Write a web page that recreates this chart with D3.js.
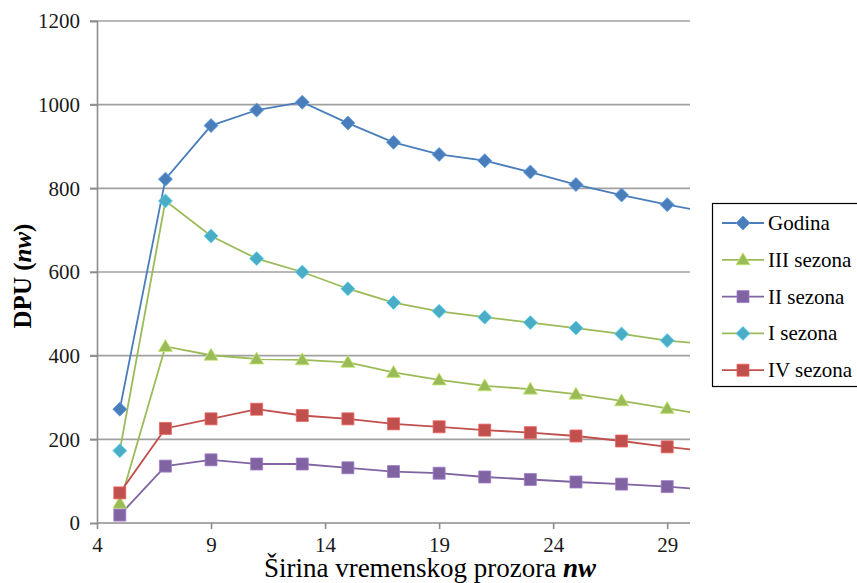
<!DOCTYPE html>
<html><head><meta charset="utf-8">
<script src="https://cdn.jsdelivr.net/npm/d3@7"></script>
<style>body{margin:0;background:#fff;} svg{display:block;} text{font-family:'Liberation Serif','Times New Roman',serif;}</style>
</head><body>
<svg id="c" width="857" height="583"></svg>
<script>
const nwValues = [5, 7, 9, 11, 13, 15, 17, 19, 21, 23, 25, 27, 29, 31];
const xTicks = [4, 9, 14, 19, 24, 29];
const yTicks = [0, 200, 400, 600, 800, 1000, 1200];
const godina = [272, 822, 950, 987, 1006, 956, 910, 881, 866, 839, 809, 784, 761, 741];
const sezona3 = [47, 422, 401, 392, 390, 384, 360, 342, 328, 320, 308, 292, 274, 256];
const sezona2 = [19, 136, 151, 141, 141, 132, 123, 119, 110, 104, 98, 93, 87, 79];
const sezona1 = [173, 770, 686, 632, 600, 560, 527, 506, 492, 479, 466, 452, 436, 426];
const sezona4 = [72, 226, 249, 272, 257, 249, 237, 230, 222, 216, 208, 196, 182, 170];
const seriesNames = ["Godina", "III sezona", "II sezona", "I sezona", "IV sezona"];

const series = [
  {name: seriesNames[0], values: godina, line: "#4A7EBB", fill: "#4A7EBB", shape: "diamond"},
  {name: seriesNames[1], values: sezona3, line: "#9BBB59", fill: "#9BBB59", shape: "triangle"},
  {name: seriesNames[2], values: sezona2, line: "#8064A2", fill: "#8064A2", shape: "square"},
  {name: seriesNames[3], values: sezona1, line: "#9BBB59", fill: "#4BACC6", shape: "diamond"},
  {name: seriesNames[4], values: sezona4, line: "#C0504D", fill: "#C0504D", shape: "square"}
];

const svg = d3.select("#c");
const L = 97, R = 690, T = 21, B = 523;
const x = d3.scaleLinear().domain([4, 30]).range([L, R]);
const y = d3.scaleLinear().domain([0, 1200]).range([B, T]);
const serif = "'Liberation Serif', 'Times New Roman', serif";

svg.append("defs").append("clipPath").attr("id", "plot")
  .append("rect").attr("x", L).attr("y", 0).attr("width", R - L).attr("height", 583);

// gridlines
svg.append("g").selectAll("line").data(yTicks.filter(d => d > 0)).join("line")
  .attr("x1", L - 7).attr("x2", R).attr("y1", d => y(d)).attr("y2", d => y(d))
  .attr("stroke", "#a0a0a0").attr("stroke-width", 1.6);

// y axis
const yAxis = svg.append("g").attr("transform", `translate(${L},0)`)
  .call(d3.axisLeft(y).tickValues(yTicks).tickSize(7).tickPadding(10).tickFormat(d3.format("d")))
  .attr("font-family", serif).attr("font-size", 21);
yAxis.select(".domain").attr("stroke", "#8c8c8c").attr("stroke-width", 1.6);
yAxis.selectAll(".tick line").attr("stroke", "#8c8c8c").attr("stroke-width", 1.6);
yAxis.selectAll("text").attr("fill", "#1a1a1a");

// x axis
const xAxis = svg.append("g").attr("transform", `translate(0,${B})`)
  .call(d3.axisBottom(x).tickValues(xTicks).tickSize(6).tickPadding(8).tickSizeOuter(0))
  .attr("font-family", serif).attr("font-size", 21);
xAxis.select(".domain").attr("stroke", "#8c8c8c").attr("stroke-width", 1.6)
  .attr("d", `M${L},0H${R}`);
xAxis.selectAll(".tick line").attr("stroke", "#8c8c8c").attr("stroke-width", 1.6);
xAxis.selectAll("text").attr("fill", "#1a1a1a");

function markerPath(shape) {
  if (shape === "diamond") return "M0,-7L7,0L0,7L-7,0Z";
  if (shape === "triangle") return "M0,-7L7,5L-7,5Z";
  return "M-6,-6H6V6H-6Z";
}

const plot = svg.append("g").attr("clip-path", "url(#plot)");
const line = d3.line().x((d, i) => x(nwValues[i])).y(d => y(d));
series.forEach(s => {
  plot.append("path").attr("d", line(s.values)).attr("fill", "none")
    .attr("stroke", s.line).attr("stroke-width", 1.8);
});
series.forEach(s => {
  plot.append("g").selectAll("path").data(s.values).join("path")
    .attr("transform", (d, i) => `translate(${x(nwValues[i])},${y(d)})`)
    .attr("d", markerPath(s.shape)).attr("fill", s.fill)
    .attr("stroke", d3.color(s.fill).brighter(0.6)).attr("stroke-width", 0.8);
});

// axis titles
const xt = svg.append("text").attr("x", 430).attr("y", 576.5).attr("text-anchor", "middle")
  .attr("font-family", serif).attr("font-size", 27).attr("fill", "#000");
xt.append("tspan").text("Širina vremenskog prozora ");
xt.append("tspan").attr("font-weight", "bold").attr("font-style", "italic").text("nw");

const yt = svg.append("text").attr("transform", "translate(31,276) rotate(-90)")
  .attr("text-anchor", "middle").attr("font-family", serif).attr("font-size", 25)
  .attr("font-weight", "bold").attr("fill", "#000");
yt.append("tspan").text("DPU (");
yt.append("tspan").attr("font-style", "italic").text("nw");
yt.append("tspan").text(")");

// legend
const lg = svg.append("g");
lg.append("rect").attr("x", 712.5).attr("y", 203.5).attr("width", 160).attr("height", 183)
  .attr("fill", "#fff").attr("stroke", "#000").attr("stroke-width", 1.2);
series.forEach((s, i) => {
  const cy = 223 + i * 36.8;
  lg.append("line").attr("x1", 722).attr("x2", 764).attr("y1", cy).attr("y2", cy)
    .attr("stroke", s.line).attr("stroke-width", 1.8);
  lg.append("path").attr("transform", `translate(743,${cy})`).attr("d", markerPath(s.shape))
    .attr("fill", s.fill).attr("stroke", d3.color(s.fill).brighter(0.6)).attr("stroke-width", 0.8);
  lg.append("text").attr("x", 768).attr("y", cy + 7).attr("font-family", serif)
    .attr("font-size", 21).attr("fill", "#000").text(s.name);
});
</script>
</body></html>
